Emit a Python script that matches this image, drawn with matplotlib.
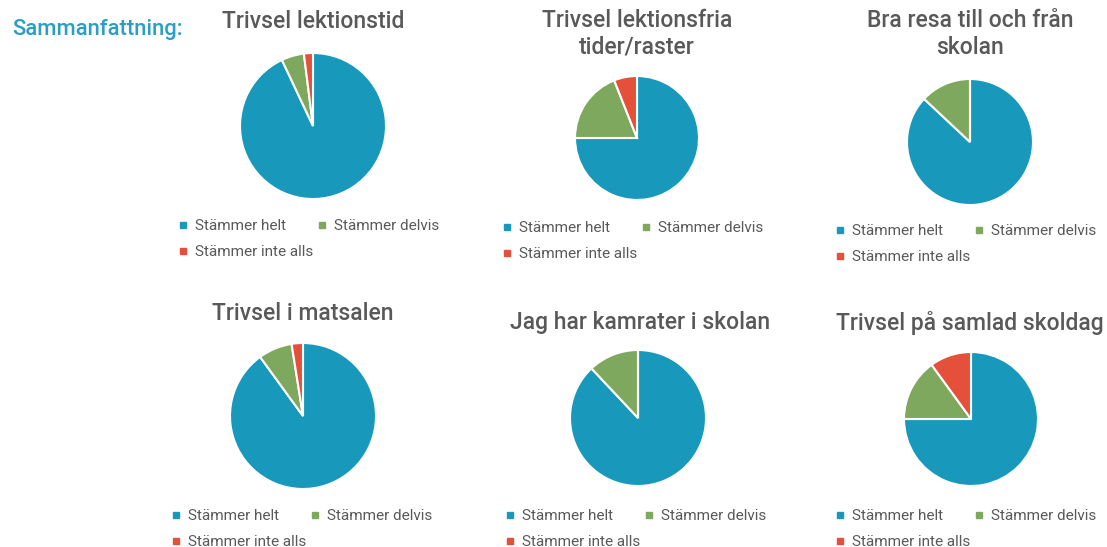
import matplotlib
matplotlib.use("Agg")
import matplotlib.pyplot as plt
from matplotlib.lines import Line2D

W, H = 1107, 547

categories = ["Stämmer helt", "Stämmer delvis", "Stämmer inte alls"]
colors = ["#1899bb", "#7ea85e", "#e4503a"]

titles = [
    "Trivsel lektionstid",
    "Trivsel lektionsfria\ntider/raster",
    "Bra resa till och från\nskolan",
    "Trivsel i matsalen",
    "Jag har kamrater i skolan",
    "Trivsel på samlad skoldag",
]

lektionstid = [93, 5, 2]
raster = [75, 19, 6]
resa = [87, 13, 0]
matsalen = [90, 7.5, 2.5]
kamrater = [88, 12, 0]
skoldag = [75, 15, 10]
all_values = [lektionstid, raster, resa, matsalen, kamrater, skoldag]

# layout in pixels: pie centre, radius, title centre, legend top-left
pie_centres = [(313, 126), (637, 138), (970, 142), (303, 416), (638, 418), (971, 419)]
pie_radii = [73, 62, 63, 73, 68, 67]
title_pos = [(313, 22), (637, 34), (970, 34), (303, 313), (640, 323), (970, 323)]
legend_pos = [(178, 219), (502, 221), (835, 224), (171, 509), (505, 509), (835, 509)]

plt.rcParams['font.family'] = ['Roboto', 'DejaVu Sans']
text_grey = "#595959"

fig = plt.figure(figsize=(W / 100, H / 100), dpi=100)
fig.patch.set_facecolor("white")

fig.text(12 / W, 1 - 30 / H, "Sammanfattning:", color="#2a9fc4", fontsize=15.8,
         fontweight="medium", ha="left", va="center")

for i, vals in enumerate(all_values):
    cx, cy = pie_centres[i]
    r = pie_radii[i]
    ax = fig.add_axes([(cx - r) / W, 1 - (cy + r) / H, 2 * r / W, 2 * r / H])
    ax.pie(vals, colors=colors, startangle=90, counterclock=False,
           wedgeprops=dict(edgecolor="white", linewidth=1.5))
    ax.set_xlim(-1.0, 1.0)
    ax.set_ylim(-1.0, 1.0)
    ax.set_aspect("equal")
    ax.axis("off")

    tx, ty = title_pos[i]
    fig.text(tx / W, 1 - ty / H, titles[i], color=text_grey, fontsize=16.5,
             fontweight="medium", ha="center", va="center", linespacing=1.2)

    handles = [Line2D([], [], marker="s", linestyle="", color=c, markersize=5) for c in colors]
    order = [0, 2, 1]
    lx, ly = legend_pos[i]
    fig.legend([handles[k] for k in order], [categories[k] for k in order],
               loc="upper left", bbox_to_anchor=(lx / W, 1 - ly / H), ncol=2,
               frameon=False, fontsize=11, labelcolor=text_grey,
               handlelength=0.6, handletextpad=0.5, columnspacing=0.3,
               labelspacing=0.8, borderpad=0, borderaxespad=0)

fig.savefig("out.png", dpi=100)
